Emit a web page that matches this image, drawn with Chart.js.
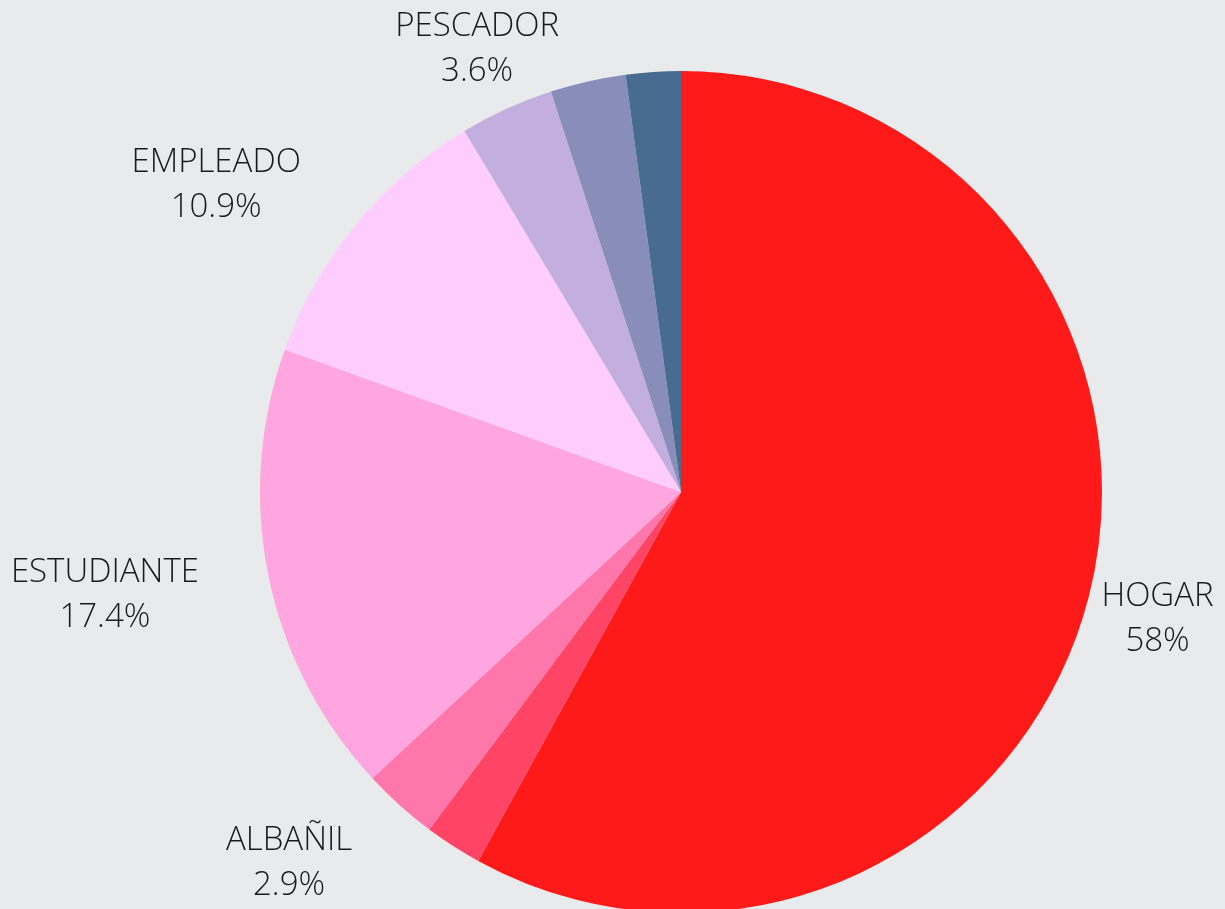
<!DOCTYPE html>
<html lang="es">
<head>
    <meta charset="UTF-8">
    <title>Ocupación</title>
    <style>
        * { margin: 0; padding: 0; box-sizing: border-box; }
        html, body { width: 1225px; height: 909px; overflow: hidden; background: #e9eaeb; }
        .wrap { width: 1225px; height: 984px; position: relative; }
    </style>
    <script src="https://cdn.jsdelivr.net/npm/chart.js"></script>
</head>
<body>
    <div class="wrap"><canvas id="pie"></canvas></div>
    <script>
        // slices clockwise from the top; empty name = no label in the picture
        const categories = ['HOGAR', '', 'ALBAÑIL', 'ESTUDIANTE', 'EMPLEADO', 'PESCADOR', '', ''];
        const values = [58, 2.2, 2.9, 17.4, 10.9, 3.6, 2.9, 2.1];
        const colors = ['#ff1a1a', '#ff4466', '#ff77aa', '#ffa6e0', '#ffccff', '#c3aee0', '#898dba', '#486c91'];

        const outsideLabels = {
            id: 'outsideLabels',
            afterDatasetsDraw(chart) {
                const ctx = chart.ctx;
                const arcs = chart.getDatasetMeta(0).data;
                ctx.save();
                ctx.fillStyle = '#1a1a1a';
                ctx.font = '300 33px "Open Sans", sans-serif';
                ctx.textBaseline = 'alphabetic';
                ctx.textAlign = 'center';
                arcs.forEach((arc, i) => {
                    if (!categories[i]) return;
                    const mid = (arc.startAngle + arc.endAngle) / 2;
                    const r = arc.outerRadius + 71;
                    let x = arc.x + Math.cos(mid) * r;
                    const y = arc.y + Math.sin(mid) * r;
                    const txt = values[i] + '%';
                    // labels on the left hang off the anchor towards the edge
                    if (Math.cos(mid) < -0.5) {
                        const w = Math.max(ctx.measureText(categories[i]).width, ctx.measureText(txt).width);
                        x -= w / 2;
                    }
                    ctx.fillText(categories[i], x, y - 8);
                    ctx.fillText(txt, x, y + 37);
                });
                ctx.restore();
            }
        };

        new Chart(document.getElementById('pie'), {
            type: 'pie',
            data: {
                labels: categories,
                datasets: [{ data: values, backgroundColor: colors, borderWidth: 0 }]
            },
            options: {
                responsive: true,
                maintainAspectRatio: false,
                animation: false,
                layout: { padding: { top: 71, bottom: 71, left: 260, right: 123 } },
                plugins: { legend: { display: false }, tooltip: { enabled: false } }
            },
            plugins: [outsideLabels]
        });
    </script>
</body>
</html>
